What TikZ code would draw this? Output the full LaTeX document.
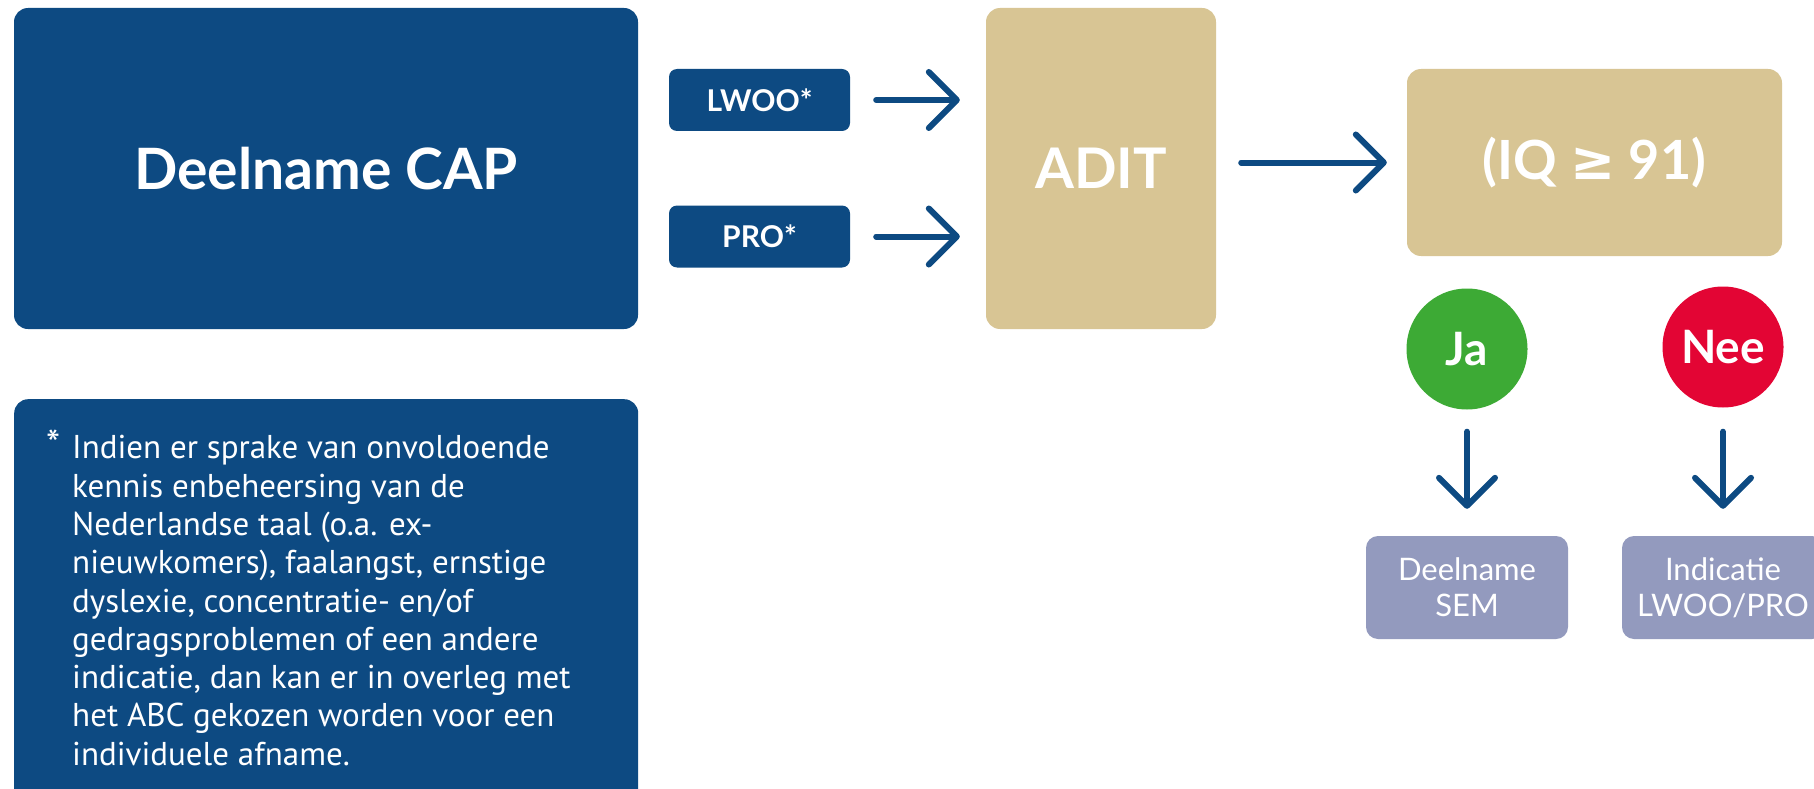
\documentclass[tikz,border=0pt]{standalone}
\usepackage{fontspec}
\setmainfont{Lato}
\newfontfamily\symfont{DejaVu Sans}
\newfontfamily\notefont{PT Sans}
\usetikzlibrary{arrows.meta}
\definecolor{dblue}{RGB}{13,74,130}
\definecolor{tan}{RGB}{216,197,148}
\definecolor{jagreen}{RGB}{61,170,53}
\definecolor{neered}{RGB}{227,5,52}
\definecolor{lav}{RGB}{147,154,190}
\begin{document}
\begin{tikzpicture}[x=1pt,y=-1pt,
  box/.style={rounded corners=14pt, inner sep=0pt, text=white, align=center},
  bluebox/.style={box, fill=dblue},
  tanbox/.style={box, fill=tan},
  lavbox/.style={box, fill=lav, rounded corners=12pt, minimum width=202pt, minimum height=103pt, font=\fontsize{31}{36}\selectfont},
  smallbox/.style={bluebox, rounded corners=8pt, minimum width=181pt, minimum height=62pt, font=\bfseries\fontsize{30}{34}\selectfont},
  badge/.style={circle, minimum size=121pt, inner sep=0pt, text=white, font=\bfseries\fontsize{46}{50}\selectfont},
  flow/.style={draw=dblue, line width=6pt, line cap=round, -{Straight Barb[round, length=28pt, width=56pt]}},
]
\useasboundingbox (0,0) rectangle (1814,789);
\clip (0,0) rectangle (1814,789);
\fill[white] (0,0) rectangle (1814,789);

\node[bluebox, minimum width=624pt, minimum height=321pt, font=\bfseries\fontsize{57}{64}\selectfont] (cap) at (326,168.5) {Deelname CAP};
\node[bluebox, minimum width=624pt, minimum height=420pt, anchor=north west] (note) at (14,399) {};
\node[anchor=north west, text=white, align=left, inner sep=0pt, font=\notefont\fontsize{33}{38.3}\selectfont] (notetext) at (72,430) {\llap{\fontsize{40}{40}\selectfont*\hspace{12pt}}Indien er sprake van onvoldoende\\
kennis enbeheersing van de\\
Nederlandse taal (o.a. ex-\\
nieuwkomers), faalangst, ernstige\\
dyslexie, concentratie- en/of\\
gedragsproblemen of een andere\\
indicatie, dan kan er in overleg met\\
het ABC gekozen worden voor een\\
individuele afname.};

\node[smallbox] (lwoo) at (759.5,100) {LWOO*};
\node[smallbox] (pro) at (759.5,236.5) {PRO*};
\node[tanbox, minimum width=230pt, minimum height=321pt, font=\bfseries\fontsize{56}{62}\selectfont] (adit) at (1101,168.5) {ADIT};
\node[tanbox, minimum width=375pt, minimum height=187pt, font=\bfseries\fontsize{54}{60}\selectfont] (iq) at (1594.5,162.5) {(IQ {\symfont\bfseries ≥} 91)};
\node[badge, fill=jagreen] (ja) at (1467,349) {Ja};
\node[badge, fill=neered] (nee) at (1723,347) {Nee};
\node[lavbox] (sem) at (1467,587.5) {Deelname\\SEM};
\node[lavbox] (ind) at (1723,587.5) {Indicatie\\LWOO/PRO};

\draw[flow, shorten <=26pt, shorten >=26pt] (lwoo.east) -- (lwoo.east -| adit.west);
\draw[flow, shorten <=26pt, shorten >=26pt] (pro.east) -- (pro.east -| adit.west);
\draw[flow, shorten <=25pt, shorten >=20pt] (adit.east |- iq.west) -- (iq.west);
\draw[flow, shorten <=22pt, shorten >=27pt] (ja.south) -- (ja.south |- sem.north);
\draw[flow, shorten <=24pt, shorten >=27pt] (nee.south) -- (nee.south |- ind.north);
\end{tikzpicture}
\end{document}
